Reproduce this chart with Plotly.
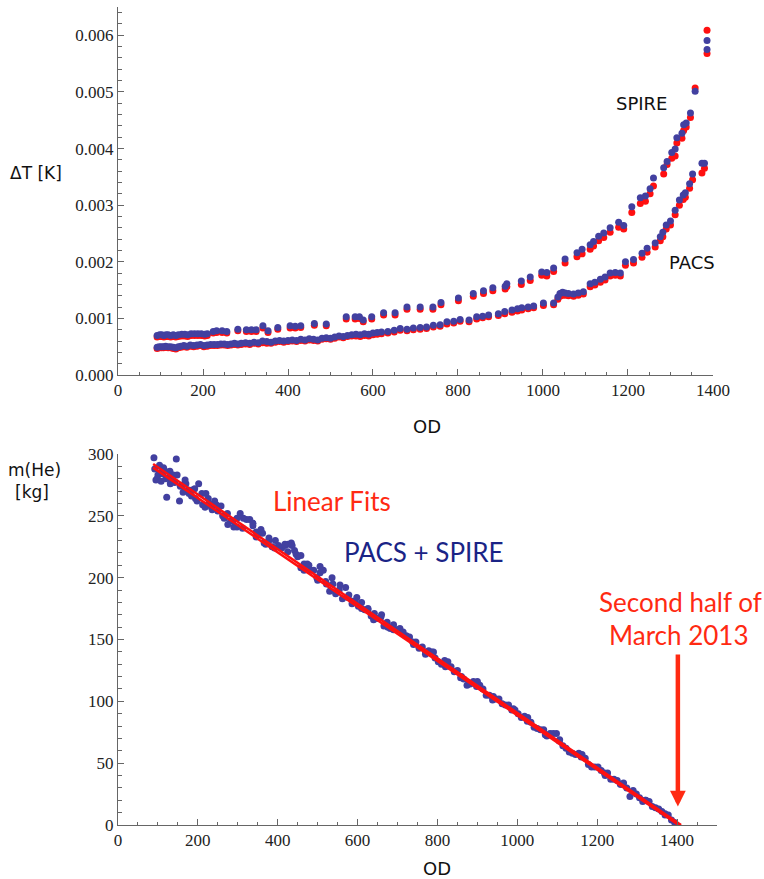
import plotly.graph_objects as go

# ---------------- Top panel data (OD vs Delta T) ----------------
spire_x = [92, 98, 103, 108, 113, 118, 124, 130, 136, 142, 150, 157, 164, 172, 180, 188, 196, 204, 210,
           224, 232, 245, 256, 282, 302, 314, 325, 341, 353, 376, 405, 417, 430, 462, 490, 537, 558, 568,
           577, 597, 625, 652, 680, 711, 741, 760, 801, 836, 860, 882, 911, 915, 949, 970, 997, 1009, 1025,
           1052, 1080, 1092, 1111, 1119, 1131, 1143, 1158, 1178, 1190, 1209, 1229, 1241, 1252, 1260, 1284,
           1292, 1303, 1311, 1315, 1327, 1331, 1337, 1347, 1358, 1386, 1386]
spire_blue = [0.00070, 0.00071, 0.00071, 0.00070, 0.00071, 0.00071, 0.00070, 0.00071, 0.00070, 0.00071,
              0.00072, 0.00072, 0.00071, 0.00073, 0.00073, 0.00073, 0.00073, 0.00072, 0.00073, 0.00077,
              0.00078, 0.00078, 0.00077, 0.00081, 0.00080, 0.00080, 0.00080, 0.00087, 0.00078, 0.00084,
              0.00087, 0.00086, 0.00087, 0.00091, 0.00090, 0.00103, 0.00103, 0.00103, 0.00097, 0.00103,
              0.00110, 0.00110, 0.00120, 0.00120, 0.00120, 0.00128, 0.00136, 0.00144, 0.00149, 0.00154,
              0.00157, 0.00161, 0.00166, 0.00173, 0.00182, 0.00181, 0.00189, 0.00205, 0.00216, 0.00222,
              0.00230, 0.00236, 0.00245, 0.00251, 0.00260, 0.00270, 0.00264, 0.00297, 0.00313, 0.00316,
              0.00329, 0.00348, 0.00366, 0.00377, 0.00393, 0.00399, 0.00419, 0.00427, 0.00442, 0.00445,
              0.00463, 0.00501, 0.00591, 0.00575]
spire_red = [0.00067, 0.00068, 0.00068, 0.00067, 0.00068, 0.00068, 0.00067, 0.00068, 0.00067, 0.00068,
             0.00069, 0.00069, 0.00068, 0.00070, 0.00070, 0.00070, 0.00070, 0.00069, 0.00070, 0.00074,
             0.00075, 0.00075, 0.00074, 0.00078, 0.00077, 0.00077, 0.00077, 0.00083, 0.00075, 0.00081,
             0.00083, 0.00083, 0.00084, 0.00088, 0.00087, 0.00099, 0.00099, 0.00100, 0.00094, 0.00099,
             0.00106, 0.00106, 0.00116, 0.00116, 0.00116, 0.00124, 0.00131, 0.00139, 0.00144, 0.00149,
             0.00152, 0.00156, 0.00160, 0.00167, 0.00176, 0.00175, 0.00183, 0.00198, 0.00209, 0.00214,
             0.00222, 0.00228, 0.00237, 0.00243, 0.00252, 0.00261, 0.00258, 0.00287, 0.00303, 0.00307,
             0.00320, 0.00334, 0.00355, 0.00372, 0.00383, 0.00387, 0.00410, 0.00418, 0.00432, 0.00438,
             0.00455, 0.00507, 0.00609, 0.00568]

pacs_x = [92, 97, 102, 107, 112, 118, 124, 130, 136, 142, 148, 155, 162, 170, 178, 186, 194, 202, 210, 218,
          226, 234, 242, 250, 258, 266, 274, 282, 290, 300, 310, 320, 330, 340, 350, 360, 370, 380, 390, 400,
          410, 420, 430, 440, 450, 460, 470, 480, 490, 500, 510, 520, 530, 540, 550, 560, 570, 580, 590, 600,
          610, 620, 635, 650, 664, 680, 695, 711, 726, 742, 758, 774, 790, 805, 826, 844, 858, 872, 895, 910,
          927, 940, 950, 965, 978, 1001, 1025, 1035, 1040, 1046, 1052, 1060, 1072, 1083, 1095, 1111, 1122,
          1135, 1146, 1158, 1170, 1182, 1194, 1213, 1233, 1245, 1264, 1276, 1282, 1290, 1300, 1311, 1321,
          1330, 1335, 1345, 1352, 1374, 1380]
pacs_blue = [0.00049, 0.00050, 0.00050, 0.00050, 0.00051, 0.00050, 0.00050, 0.00049, 0.00048, 0.00050,
             0.00051, 0.00052, 0.00051, 0.00053, 0.00052, 0.00053, 0.00054, 0.00052, 0.00053, 0.00054,
             0.00054, 0.00054, 0.00055, 0.00055, 0.00054, 0.00055, 0.00056, 0.00055, 0.00056, 0.00057,
             0.00056, 0.00058, 0.00057, 0.00060, 0.00059, 0.00058, 0.00060, 0.00061, 0.00060, 0.00061,
             0.00062, 0.00061, 0.00063, 0.00062, 0.00064, 0.00063, 0.00062, 0.00065, 0.00066, 0.00065,
             0.00067, 0.00069, 0.00068, 0.00070, 0.00071, 0.00072, 0.00071, 0.00073, 0.00072, 0.00074,
             0.00075, 0.00076, 0.00077, 0.00079, 0.00082, 0.00081, 0.00083, 0.00084, 0.00085, 0.00088,
             0.00089, 0.00094, 0.00095, 0.00098, 0.00097, 0.00103, 0.00104, 0.00106, 0.00108, 0.00112,
             0.00115, 0.00117, 0.00119, 0.00120, 0.00122, 0.00127, 0.00127, 0.00138, 0.00144, 0.00146,
             0.00145, 0.00144, 0.00143, 0.00145, 0.00147, 0.00161, 0.00164, 0.00169, 0.00173, 0.00180,
             0.00181, 0.00180, 0.00200, 0.00204, 0.00215, 0.00224, 0.00233, 0.00244, 0.00252, 0.00265,
             0.00272, 0.00291, 0.00309, 0.00318, 0.00322, 0.00338, 0.00355, 0.00374, 0.00374]
pacs_red = [0.00047, 0.00048, 0.00048, 0.00048, 0.00049, 0.00048, 0.00048, 0.00047, 0.00046, 0.00048,
            0.00049, 0.00050, 0.00049, 0.00051, 0.00050, 0.00051, 0.00052, 0.00050, 0.00051, 0.00052,
            0.00052, 0.00052, 0.00053, 0.00053, 0.00052, 0.00053, 0.00054, 0.00053, 0.00054, 0.00055,
            0.00054, 0.00056, 0.00055, 0.00057, 0.00056, 0.00056, 0.00058, 0.00059, 0.00058, 0.00059,
            0.00060, 0.00059, 0.00061, 0.00060, 0.00062, 0.00061, 0.00060, 0.00063, 0.00064, 0.00063,
            0.00065, 0.00067, 0.00066, 0.00068, 0.00069, 0.00069, 0.00068, 0.00070, 0.00069, 0.00071,
            0.00072, 0.00073, 0.00074, 0.00076, 0.00079, 0.00078, 0.00080, 0.00081, 0.00082, 0.00085,
            0.00086, 0.00090, 0.00092, 0.00095, 0.00094, 0.00099, 0.00101, 0.00103, 0.00105, 0.00108,
            0.00111, 0.00113, 0.00115, 0.00117, 0.00119, 0.00123, 0.00124, 0.00134, 0.00139, 0.00141,
            0.00141, 0.00140, 0.00139, 0.00141, 0.00143, 0.00156, 0.00159, 0.00164, 0.00168, 0.00175,
            0.00176, 0.00175, 0.00194, 0.00198, 0.00208, 0.00217, 0.00226, 0.00237, 0.00244, 0.00258,
            0.00265, 0.00283, 0.00300, 0.00310, 0.00314, 0.00330, 0.00345, 0.00357, 0.00365]

# ---------------- Bottom panel data (OD vs helium mass) ----------------
mass_x = [90, 98, 106, 114, 122, 130, 138, 146, 154, 162,
          170, 178, 186, 194, 202, 210, 218, 226, 234, 242,
          250, 258, 266, 274, 282, 290, 298, 306, 314, 322,
          330, 338, 346, 354, 362, 370, 378, 386, 394, 402,
          410, 418, 426, 434, 442, 450, 458, 466, 474, 482,
          490, 498, 506, 514, 522, 530, 538, 546, 554, 562,
          570, 578, 586, 594, 602, 610, 618, 626, 634, 642,
          650, 658, 666, 674, 682, 690, 698, 706, 714, 722,
          730, 738, 746, 754, 762, 770, 778, 786, 794, 802,
          810, 818, 826, 834, 842, 850, 858, 866, 874, 882,
          890, 898, 906, 914, 922, 930, 938, 946, 954, 962,
          970, 978, 986, 994, 1002, 1010, 1018, 1026, 1034, 1042,
          1050, 1058, 1066, 1074, 1082, 1090, 1098, 1106, 1114, 1122,
          1130, 1138, 1146, 1154, 1162, 1170, 1178, 1186, 1194, 1202,
          1210, 1218, 1226, 1234, 1242, 1250, 1258, 1266, 1274, 1282,
          1290, 1298, 1306, 1314, 1322, 1330, 1338, 1346, 1354, 1362, 1370, 1378, 1386, 1394]
mass_y = [297, 280, 285, 289, 265, 286, 283, 296, 262, 275,
          276, 268, 271, 264, 276, 268, 257, 264, 257, 262,
          254, 258, 248, 252, 246, 241, 248, 252, 248, 247,
          247, 242, 233, 236, 236, 227, 230, 225, 230, 226,
          224, 226, 227, 228, 222, 217, 208, 211, 211, 206,
          206, 200, 204, 206, 195, 189, 195, 188, 190, 183,
          192, 186, 179, 181, 177, 180, 174, 175, 169, 171,
          167, 168, 161, 164, 159, 158, 158, 159, 156, 153,
          152, 148, 148, 143, 144, 138, 141, 140, 135, 132,
          130, 133, 132, 128, 124, 125, 119, 118, 113, 114,
          116, 112, 113, 110, 105, 105, 101, 102, 102, 98,
          97, 97, 93, 93, 90, 87, 88, 87, 83, 79,
          78, 77, 77, 72, 74, 74, 74, 69, 64, 62,
          59, 58, 57, 58, 57, 54, 49, 47, 47, 47,
          44, 42, 42, 37, 37, 36, 33, 34, 30, 23,
          28, 25, 22, 19, 20, 19, 15, 14, 13, 11, 8, 8, 4, 2]
mass_x2 = [92, 95, 100, 104, 108, 112, 116, 120, 126, 131, 136, 142, 148, 156, 163, 168, 176, 184, 192,
           198, 212, 220, 228, 236, 246, 262, 275, 288, 298, 312, 338, 346, 358, 366, 378, 392, 418, 425,
           436, 446, 458, 466, 478, 500, 506, 520, 536, 545, 556, 576, 588, 598, 610, 626, 640, 660, 676,
           690, 712, 740, 770, 790, 820, 860, 900, 940, 990, 1025, 1070, 1105, 1160, 1220, 1260, 1320, 1370]
mass_y2 = [288, 279, 283, 291, 278, 284, 287, 280, 281, 276, 279, 277, 283, 274, 269, 279, 271, 266, 272,
           262, 259, 268, 260, 255, 259, 250, 243, 246, 241, 240, 244, 237, 239, 228, 232, 224, 227, 221,
           226, 219, 218, 206, 210, 198, 209, 197, 200, 187, 194, 184, 181, 184, 175, 174, 166, 170, 160,
           162, 155, 146, 140, 140, 128, 120, 116, 104, 94, 84, 73, 68, 55, 40, 33, 20, 9]

fit1_x = [88, 1410]
fit1_y = [292, 0]
fit2_x = [88, 1404]
fit2_y = [289, 0]

x_ticks_top = [0, 200, 400, 600, 800, 1000, 1200, 1400]
y_ticks_top = [0.000, 0.001, 0.002, 0.003, 0.004, 0.005, 0.006]
x_ticks_bot = [0, 200, 400, 600, 800, 1000, 1200, 1400]
y_ticks_bot = [0, 50, 100, 150, 200, 250, 300]

BLUE = "#4240a0"
RED = "#ff1010"
TXT_RED = "#ff2a12"
NAVY = "#1a2486"
MS = 7

fig = go.Figure()
fig.add_trace(go.Scatter(x=spire_x, y=spire_red, mode="markers", marker=dict(color=RED, size=MS),
                         xaxis="x", yaxis="y"))
fig.add_trace(go.Scatter(x=pacs_x, y=pacs_red, mode="markers", marker=dict(color=RED, size=MS),
                         xaxis="x", yaxis="y"))
fig.add_trace(go.Scatter(x=spire_x, y=spire_blue, mode="markers", marker=dict(color=BLUE, size=MS),
                         xaxis="x", yaxis="y"))
fig.add_trace(go.Scatter(x=pacs_x, y=pacs_blue, mode="markers", marker=dict(color=BLUE, size=MS),
                         xaxis="x", yaxis="y"))

fig.add_trace(go.Scatter(x=mass_x, y=mass_y, mode="markers", marker=dict(color=BLUE, size=MS),
                         xaxis="x2", yaxis="y2"))
fig.add_trace(go.Scatter(x=mass_x2, y=mass_y2, mode="markers", marker=dict(color=BLUE, size=MS),
                         xaxis="x2", yaxis="y2"))
fig.add_trace(go.Scatter(x=fit1_x, y=fit1_y, mode="lines", line=dict(color=RED, width=2.5),
                         xaxis="x2", yaxis="y2"))
fig.add_trace(go.Scatter(x=fit2_x, y=fit2_y, mode="lines", line=dict(color=RED, width=2.5),
                         xaxis="x2", yaxis="y2"))

AX = dict(showline=True, linecolor="#666", linewidth=1, ticks="inside", ticklen=6, tickcolor="#666",
          tickwidth=1, showgrid=False, zeroline=False, automargin=False,
          tickfont=dict(family="Liberation Serif, serif", size=17, color="#222"))

fig.update_layout(
    template="none",
    width=764, height=879, showlegend=False,
    margin=dict(l=118, r=47, t=7, b=54, autoexpand=False),
    paper_bgcolor="white", plot_bgcolor="white",
    xaxis=dict(AX, domain=[0, 0.9933], range=[0, 1400], anchor="y", tickvals=x_ticks_top,
               minor=dict(ticks="inside", ticklen=3.5, tickcolor="#666", dtick=50)),
    yaxis=dict(AX, domain=[0.5501, 1], range=[0, 0.0065], anchor="x", tickvals=y_ticks_top,
               tickformat=".3f", minor=dict(ticks="inside", ticklen=3.5, tickcolor="#666", dtick=0.0002)),
    xaxis2=dict(AX, domain=[0, 1], range=[0, 1500], anchor="y2", tickvals=x_ticks_bot,
                minor=dict(ticks="inside", ticklen=3.5, tickcolor="#666", dtick=50)),
    yaxis2=dict(AX, domain=[0, 0.4535], range=[0, 300], anchor="x2", tickvals=y_ticks_bot,
                minor=dict(ticks="inside", ticklen=3.5, tickcolor="#666", dtick=10)),
)

SANS = "DejaVu Sans"
ann = [
    dict(text="ΔT [K]", xref="paper", yref="paper", x=-0.137, y=0.797, font=dict(family=SANS, size=17, color="#111")),
    dict(text="OD", xref="paper", yref="paper", x=0.5156, y=0.487, font=dict(family=SANS, size=18, color="#111")),
    dict(text="m(He)", xref="paper", yref="paper", x=-0.140, y=0.434, font=dict(family=SANS, size=17, color="#111")),
    dict(text="[kg]", xref="paper", yref="paper", x=-0.143, y=0.4075, font=dict(family=SANS, size=17, color="#111")),
    dict(text="OD", xref="paper", yref="paper", x=0.533, y=-0.053, font=dict(family=SANS, size=18, color="#111")),
    dict(text="SPIRE", xref="x", yref="y", x=1231, y=0.0048, font=dict(family=SANS, size=18, color="#111")),
    dict(text="PACS", xref="x", yref="y", x=1351, y=0.00199, font=dict(family=SANS, size=18, color="#111")),
    dict(text="Linear Fits", xref="x2", yref="y2", x=536, y=262, font=dict(family="Lato", size=26, color=TXT_RED)),
    dict(text="PACS + SPIRE", xref="x2", yref="y2", x=767, y=220.6, font=dict(family="Lato", size=26, color=NAVY)),
    dict(text="Second half of", xref="x2", yref="y2", x=1408, y=180, font=dict(family="Lato", size=26, color=TXT_RED)),
    dict(text="March 2013", xref="x2", yref="y2", x=1406, y=154, font=dict(family="Lato", size=26, color=TXT_RED)),
]
for a in ann:
    a.update(showarrow=False, xanchor="center", yanchor="middle")
ann.append(dict(x=1402, y=15, xref="x2", yref="y2", ax=1402, ay=139, axref="x2", ayref="y2",
                showarrow=True, arrowhead=2, arrowsize=0.7, arrowwidth=4.5, arrowcolor=TXT_RED, text=""))
fig.update_layout(annotations=ann)

fig.write_html("out.html", config={"displayModeBar": False})
